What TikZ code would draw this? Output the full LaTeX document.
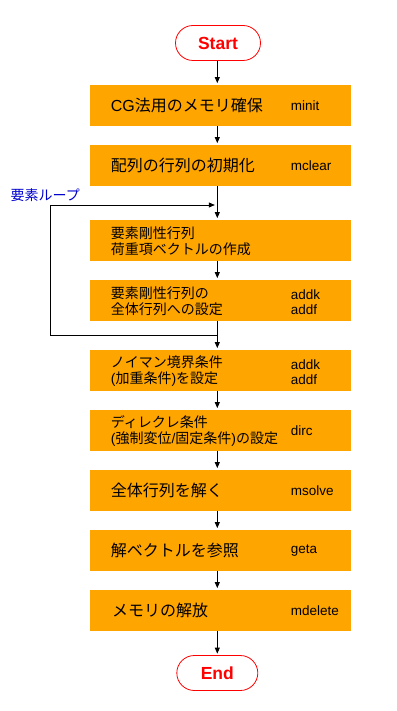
\documentclass[tikz,border=0pt]{standalone}
\usepackage{fontspec}
\setmainfont{Liberation Sans}
\newfontfamily\jp{Noto Sans CJK JP}
\newcommand\en[1]{{\normalfont #1}}
\usetikzlibrary{arrows.meta,shapes.misc}
\definecolor{boxorange}{HTML}{FFA500}
\definecolor{loopblue}{HTML}{0000CC}
\begin{document}
\begin{tikzpicture}[x=1pt,y=-1pt,
 box/.style={fill=boxorange, minimum width=261pt, minimum height=41pt, inner sep=0pt},
 term/.style={rounded rectangle, draw=red, line width=0.8pt, text=red, font=\bfseries\fontsize{17.5}{20}\selectfont, inner sep=0pt, minimum height=35pt},
 jtext/.style={anchor=west, font=\jp\fontsize{16}{16}\selectfont, align=left, inner sep=0pt},
 jtwo/.style={anchor=west, font=\jp\fontsize{14}{15.7}\selectfont, align=left, inner sep=0pt},
 fname/.style={anchor=west, font=\fontsize{13.5}{15.5}\selectfont, align=left, inner sep=0pt},
 arr/.style={-{Triangle[length=6pt,width=5pt]}, line width=0.8pt, shorten >=1.5pt}]
\useasboundingbox (0,0) rectangle (396,711);

\node[term, minimum width=85pt] (start) at (218,43) {Start};

\node[box] (b1) at (220.5,105.3) {};
\node[box] (b2) at (220.5,165.3) {};
\node[box] (b3) at (220.5,240.3) {};
\node[box] (b4) at (220.5,300.3) {};
\node[box] (b5) at (220.5,370.3) {};
\node[box] (b6) at (220.5,430.3) {};
\node[box] (b7) at (220.5,490.3) {};
\node[box] (b8) at (220.5,550.3) {};
\node[box] (b9) at (220.5,610.3) {};

\node[term, minimum width=81pt] (end) at (217.3,673) {End};

% left texts
\node[jtext] (t1) at (110.7,105.3) {\en{CG}法用のメモリ確保};
\node[jtext] (t2) at (110.7,165.3) {配列の行列の初期化};
\node[jtwo] (t3) at (110.7,241) {要素剛性行列\\荷重項ベクトルの作成};
\node[jtwo] (t4) at (110.7,301) {要素剛性行列の\\全体行列への設定};
\node[jtwo] (t5) at (110.7,371) {ノイマン境界条件\\\en{(}加重条件\en{)}を設定};
\node[jtwo] (t6) at (110.7,431) {ディレクレ条件\\\en{(}強制変位\en{/}固定条件\en{)}の設定};
\node[jtext] (t7) at (110.7,490.3) {全体行列を解く};
\node[jtext] (t8) at (110.7,550.3) {解ベクトルを参照};
\node[jtext] (t9) at (112,610.3) {メモリの解放};

% right texts
\node[fname] (f1) at (290.7,105.3) {minit};
\node[fname] (f2) at (290.7,165.3) {mclear};
\node[fname] (f4) at (290.7,302) {addk\\addf};
\node[fname] (f5) at (290.7,372) {addk\\addf};
\node[fname] (f6) at (290.7,430.3) {dirc};
\node[fname] (f7) at (290.7,490.3) {msolve};
\node[fname] (f8) at (290.7,550.3) {geta};
\node[fname] (f9) at (290.7,610.3) {mdelete};

% loop label
\node[anchor=west, inner sep=0pt, text=loopblue, font=\jp\fontsize{14}{15}\selectfont] (lbl) at (10.5,195) {要素ループ};

% connectors
\coordinate (c0) at (217.3,205);
\coordinate (c1) at (217.3,335);
\coordinate (cl1) at (50,335);
\coordinate (cl2) at (50,205);

\draw[arr] (start.south -| c0) -- (b1.north -| c0);
\draw[arr] (b1.south -| c0) -- (b2.north -| c0);
\draw[arr] (b2.south -| c0) -- (b3.north -| c0);
\draw[arr] (b3.south -| c0) -- (b4.north -| c0);
\draw[arr] (b4.south -| c0) -- (b5.north -| c0);
\draw[arr] (b5.south -| c0) -- (b6.north -| c0);
\draw[arr] (b6.south -| c0) -- (b7.north -| c0);
\draw[arr] (b7.south -| c0) -- (b8.north -| c0);
\draw[arr] (b8.south -| c0) -- (b9.north -| c0);
\draw[arr] (b9.south -| c0) -- (end.north -| c0);
\draw[arr, shorten >=2.5pt] (c1) -- (cl1) -- (cl2) -- (c0);
\end{tikzpicture}
\end{document}
